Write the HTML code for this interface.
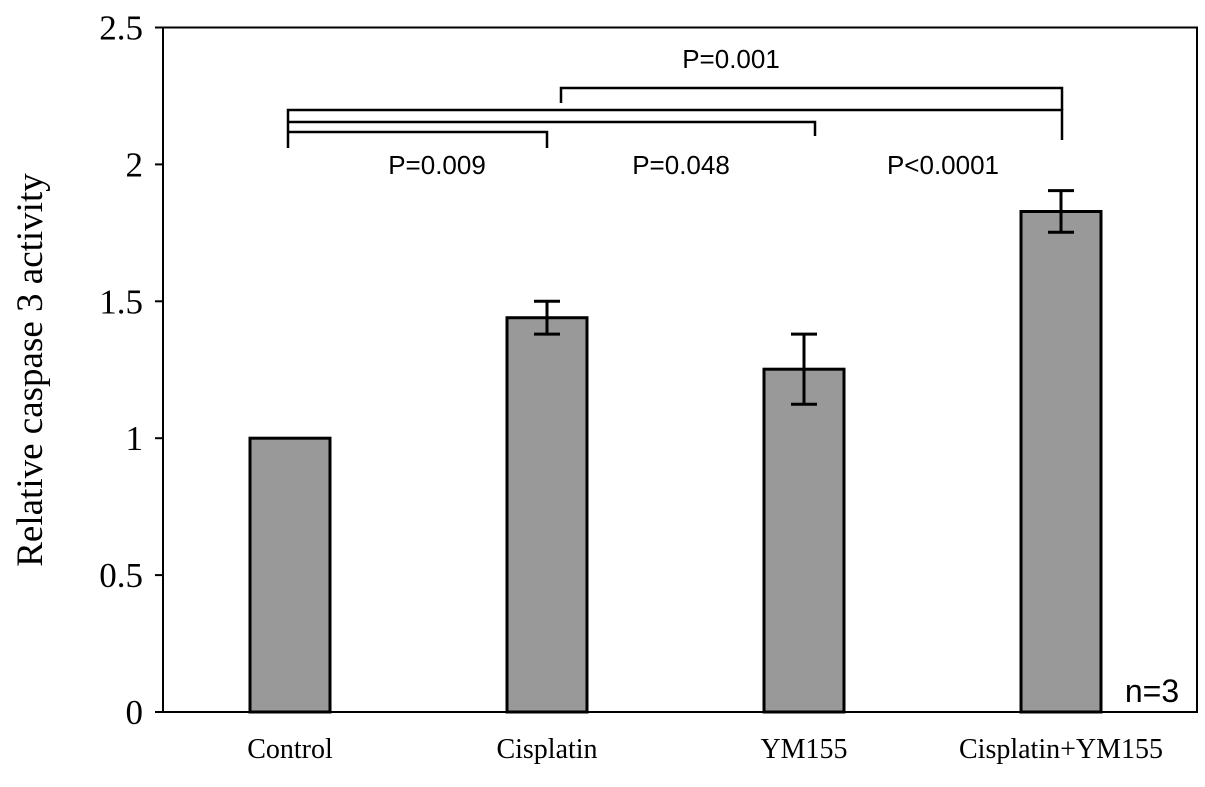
<!DOCTYPE html>
<html><head><meta charset="utf-8"><style>
body{margin:0;background:#fff}
svg text{font-family:"Liberation Serif",serif}
.s{font-family:"Liberation Sans",sans-serif}
</style></head><body>
<svg width="1205" height="782" xmlns="http://www.w3.org/2000/svg">
<g id="g"></g>
</svg>
<script>
const categories=["Control","Cisplatin","YM155","Cisplatin+YM155"];
const values=[1.0,1.44,1.252,1.828];
const errors=[0,0.06,0.128,0.076];
const ticks=[0,0.5,1,1.5,2,2.5];
const tickLabels=["0","0.5","1","1.5","2","2.5"];
const L=163,R=1197,T=27.5,B=712,ymax=2.5;
const y=v=>B-(v/ymax)*(B-T);
const xc=i=>290+i*257;
const g=document.getElementById('g');
const NS='http://www.w3.org/2000/svg';
function mk(t,a,txt){const e=document.createElementNS(NS,t);for(const k in a)e.setAttribute(k,a[k]);if(txt!=null)e.textContent=txt;g.appendChild(e);return e;}
let e=mk('rect',{x:L,y:T,width:R-L,height:B-T,fill:'none',stroke:'#000','stroke-width':2});


ticks.forEach((t,i)=>{
 let l=mk('line',{x1:L-8,x2:L,y1:y(t),y2:y(t),stroke:'#000','stroke-width':2});
 
 
 let tx=mk('text',{x:L-20,y:y(t)+12,'text-anchor':'end','font-size':35},tickLabels[i]);
 
 
});
categories.forEach((c,i)=>{
 const x=xc(i),w=80;
 let b=mk('rect',{x:x-w/2,y:y(values[i]),width:w,height:B-y(values[i]),fill:'#999',stroke:'#000','stroke-width':3});
 
 
 if(errors[i]>0){
  const hi=y(values[i]+errors[i]),lo=y(values[i]-errors[i]);
  let p=mk('path',{d:`M${x},${hi}V${lo}M${x-13},${hi}H${x+13}M${x-13},${lo}H${x+13}`,stroke:'#000','stroke-width':3,fill:'none'});
  
  
 }
 let t=mk('text',{x:x,y:758,'text-anchor':'middle','font-size':28},c);
 
 
});
const brk=[
 ["M561,103V88H1062V110","P=0.001",731,68],
 ["M288,148V110H1062V140","",0,0],
 ["M288,122H815V136","P=0.048",681,174],
 ["M288,132H547V148","P=0.009",437,174],
 ["","P<0.0001",943,174]];
brk.forEach(b=>{
 if(b[0]){let p=mk('path',{d:b[0],stroke:'#000','stroke-width':2.5,fill:'none'});
 
 }
 if(b[1]){let t=mk('text',{x:b[2],y:b[3],'text-anchor':'middle','font-size':26,class:'s'},b[1]);
 
 }
});
let n=mk('text',{x:1152,y:702,'text-anchor':'middle','font-size':32,class:'s'},'n=3');


let yt=mk('text',{x:0,y:0,'text-anchor':'middle','font-size':37,transform:'translate(42,370) rotate(-90)'},'Relative caspase 3 activity');


</script>
</body></html>
